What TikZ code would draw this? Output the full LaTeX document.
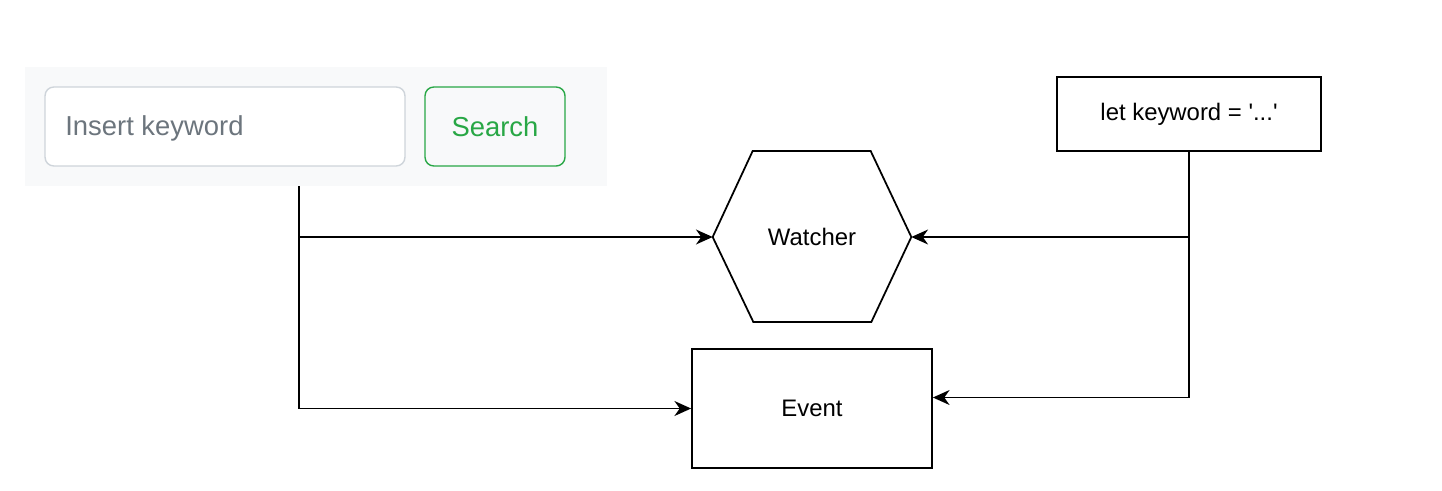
\documentclass[tikz,border=0pt]{standalone}
\usepackage{fontspec}
\setmainfont{Liberation Sans}
\usetikzlibrary{arrows.meta}
\definecolor{panelgray}{HTML}{F8F9FA}
\definecolor{inputborder}{HTML}{CED4DA}
\definecolor{hintgray}{HTML}{6C757D}
\definecolor{btngreen}{HTML}{28A745}

\begin{document}
\begin{tikzpicture}[x=0.02cm,y=-0.02cm,
 box/.style={draw,line width=1pt,inner sep=0pt,font=\fontsize{13.6}{16}\selectfont},
 ui/.style={rounded corners=5pt,line width=0.8pt,minimum height=1.58cm,inner sep=0pt},
 link/.style={line width=1pt,-{Stealth[length=9.5pt,width=8.5pt,inset=3pt]}}]
\useasboundingbox (0,0) rectangle (1442,490);
% search bar
\node[fill=panelgray,minimum width=11.64cm,minimum height=2.38cm,inner sep=0pt] (panel) at (316,126.5) {};
\node[ui,draw=inputborder,fill=white,minimum width=7.2cm] (input) at (225,126.5) {};
\node[anchor=west,inner sep=0pt,text=hintgray,font=\fontsize{15.6}{18}\selectfont] (hint) at (65,128.5) {Insert keyword};
\node[ui,draw=btngreen,minimum width=2.8cm,text=btngreen,font=\fontsize{15.6}{18}\selectfont] (search) at (495,126.5) {Search};
% boxes
\node[box,minimum width=5.28cm,minimum height=1.48cm] (keyword) at (1189,114) {let keyword = \textquotesingle...\textquotesingle};
\node[box,minimum width=4.8cm,minimum height=2.38cm] (event) at (812,408.5) {Event};
\node[inner sep=0pt,minimum width=3.96cm,minimum height=3.42cm,font=\fontsize{13.6}{16}\selectfont] (watcher) at (812,237) {Watcher};
\draw[line width=1pt] (watcher.west) -- ++(40,-86) -- ++(118,0) -- (watcher.east) -- ++(-40,85) -- ++(-118,0) -- cycle;
% connectors
\coordinate (drop) at (299,186);
\draw[link] (drop) |- (event.west);
\draw[link] (drop |- watcher.west) -- (watcher.west);
\draw[link] (keyword.south) |- ([yshift=0.22cm]event.east);
\draw[link] (keyword.south |- watcher.east) -- (watcher.east);
\end{tikzpicture}
\end{document}
